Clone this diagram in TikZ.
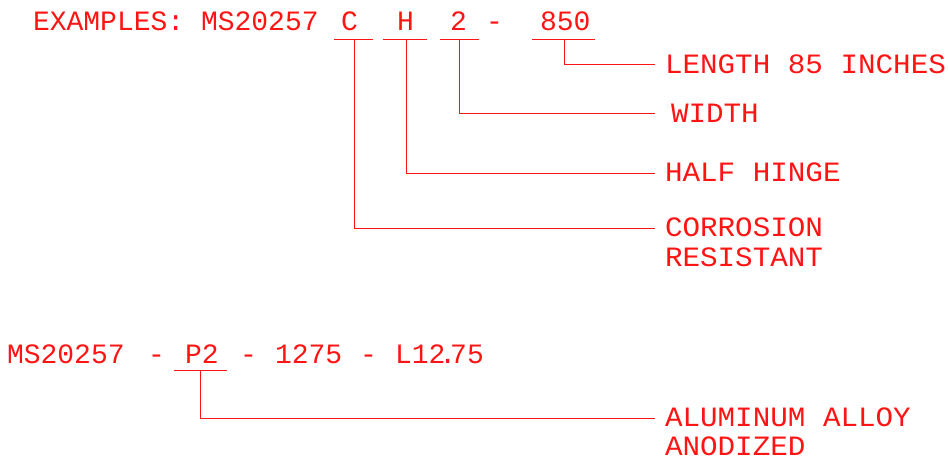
\documentclass[tikz,border=0pt]{standalone}
\usepackage{fontspec}
\setmonofont{Liberation Mono}
\newfontfamily\cadwide{Liberation Mono}[FakeStretch=1.045]
\begin{document}
\begin{tikzpicture}[x=1pt,y=-1pt,
  lbl/.style={anchor=base west,inner sep=0pt,outer sep=0pt,text=cadred,font=\ttfamily\fontsize{28}{28}\selectfont},
  wlbl/.style={lbl,font=\cadwide\fontsize{28}{28}\selectfont},
  ln/.style={draw=cadred,line width=0.9pt}]
\definecolor{cadred}{RGB}{255,20,20}
\useasboundingbox (0,0) rectangle (948,459);
% top example line
\node[lbl] (ex) at (33,30.5) {EXAMPLES:};
\node[lbl] (ms1) at (201,30.5) {MS20257};
\node[lbl] (c) at (341,30.5) {C};
\node[lbl] (h) at (397,30.5) {H};
\node[lbl] (two) at (450,30.5) {2};
\node[lbl] (dash) at (486,30.5) {-};
\node[lbl] (len) at (540,30.5) {850};
% labels
\node[wlbl] (lLen) at (665,73) {LENGTH 85 INCHES};
\node[wlbl] (lWid) at (671,122) {WIDTH};
\node[wlbl] (lHal) at (665,181) {HALF HINGE};
\node[wlbl] (lCor) at (665,236) {CORROSION};
\node[wlbl] (lRes) at (665,266) {RESISTANT};
% bottom example line
\node[lbl] (ms2) at (7,363) {MS20257};
\node[lbl] (d1) at (148,363) {-};
\node[lbl] (p2) at (185,363) {P2};
\node[lbl] (d2) at (240,363) {-};
\node[lbl] (n1275) at (275,363) {1275};
\node[lbl] (d3) at (360,363) {-};
\node[lbl] (l1275) at (395,363) {L12\kern-6pt.\kern-6pt75};
\node[wlbl] (lAlu) at (665,426) {ALUMINUM ALLOY};
\node[wlbl] (lAno) at (665,455) {ANODIZED};
% underline coordinates
\coordinate (cA) at (334,39); \coordinate (cB) at (373,39); \coordinate (cS) at (354,39);
\coordinate (hA) at (383,39); \coordinate (hB) at (427,39); \coordinate (hS) at (406,39);
\coordinate (tA) at (440,39); \coordinate (tB) at (479,39); \coordinate (tS) at (459,39);
\coordinate (nA) at (532,39); \coordinate (nB) at (595,39); \coordinate (nS) at (564,39);
\coordinate (pA) at (174,370); \coordinate (pB) at (227,370); \coordinate (pS) at (200,370);
% leader ends
\coordinate (eLen) at (655,64);
\coordinate (eWid) at (655,113);
\coordinate (eHal) at (655,173);
\coordinate (eCor) at (655,228);
\coordinate (eAlu) at (655,418);
% underlines
\draw[ln] (cA) -- (cB);
\draw[ln] (hA) -- (hB);
\draw[ln] (tA) -- (tB);
\draw[ln] (nA) -- (nB);
\draw[ln] (pA) -- (pB);
% leaders
\draw[ln] (nS) |- (eLen);
\draw[ln] (tS) |- (eWid);
\draw[ln] (hS) |- (eHal);
\draw[ln] (cS) |- (eCor);
\draw[ln] (pS) |- (eAlu);
\end{tikzpicture}
\end{document}
